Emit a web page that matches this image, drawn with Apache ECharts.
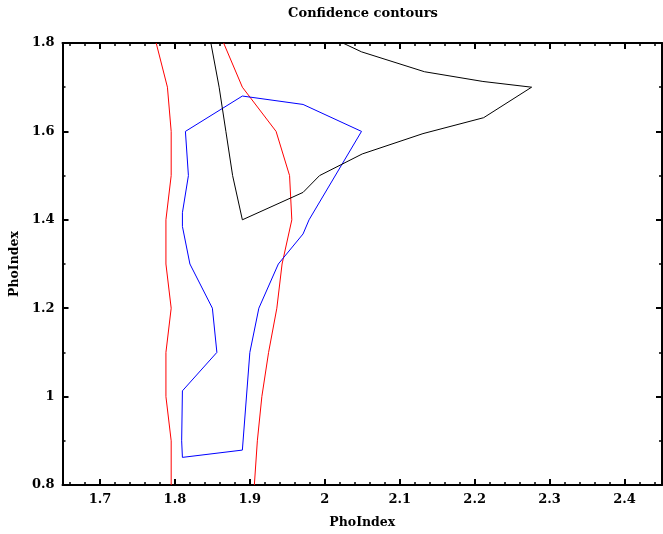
<!DOCTYPE html>
<html>
<head>
<meta charset="utf-8">
<title>Confidence contours</title>
<script src="https://cdn.jsdelivr.net/npm/echarts@6/dist/echarts.min.js"></script>
<style>
  html, body { margin: 0; padding: 0; background: #fff; }
  #contourChart { width: 663px; height: 534px; }
</style>
</head>
<body>
<div id="contourChart"></div>
<script>
// tick labels
const xTicks = [1.7, 1.8, 1.9, 2.0, 2.1, 2.2, 2.3, 2.4];
const yTicks = [0.8, 1.0, 1.2, 1.4, 1.6, 1.8];

// contour lines, [PhoIndex(x), PhoIndex(y)]
const redLeft = [
  [1.775, 1.8], [1.790, 1.7], [1.795, 1.6], [1.795, 1.5], [1.788, 1.4], [1.788, 1.3],
  [1.795, 1.2], [1.788, 1.1], [1.788, 1.0], [1.795, 0.9], [1.795, 0.8]
];
const redRight = [
  [1.865, 1.8], [1.890, 1.7], [1.935, 1.6], [1.953, 1.5], [1.956, 1.4], [1.943, 1.3],
  [1.936, 1.2], [1.925, 1.1], [1.916, 1.0], [1.910, 0.9], [1.906, 0.8]
];
const blueLoop = [
  [1.814, 1.6], [1.890, 1.68], [1.971, 1.661], [2.049, 1.6], [1.979, 1.4], [1.971, 1.368],
  [1.938, 1.3], [1.912, 1.2], [1.900, 1.1], [1.890, 0.879], [1.810, 0.8625], [1.809, 0.9],
  [1.810, 1.013], [1.856, 1.1], [1.850, 1.2], [1.820, 1.3], [1.810, 1.385], [1.810, 1.416],
  [1.818, 1.5], [1.814, 1.6]
];
const blackLine = [
  [1.848, 1.8], [1.859, 1.7], [1.868, 1.6], [1.877, 1.5], [1.890, 1.4], [1.971, 1.462],
  [1.993, 1.5], [2.050, 1.549], [2.131, 1.595], [2.212, 1.631], [2.276, 1.7], [2.211, 1.713],
  [2.133, 1.735], [2.049, 1.780], [2.024, 1.8]
];

// minor ticks
let xMinor = [];
for (let i = 166; i <= 244; i += 2) {
  if (i % 10 !== 0) xMinor.push(i / 100);
}
let yMinor = [];
for (let i = 9; i <= 17; i += 2) yMinor.push(i / 10);

let chart = echarts.init(document.getElementById("contourChart"));

const font = "DejaVu Serif";
const fmt = function (v) {
  return String(Number(v.toFixed(2)));
};

function makeAxis(pos, min, max, values, isMajor, withLabel, name) {
  let ax = {
    type: "value",
    position: pos,
    min: min,
    max: max,
    scale: true,
    axisLine: { show: isMajor, onZero: false, lineStyle: { color: "#000", width: 2 } },
    axisTick: {
      show: true,
      inside: true,
      length: isMajor ? 6 : 3,
      customValues: values,
      lineStyle: { color: "#000", width: isMajor ? 2 : 1.5 },
    },
    axisLabel: {
      show: withLabel,
      customValues: values,
      formatter: fmt,
      color: "#000",
      fontFamily: font,
      fontWeight: "bold",
      fontSize: 13,
      margin: 8,
    },
    splitLine: { show: false },
  };
  if (name) {
    ax.name = name;
    ax.nameLocation = "middle";
    ax.nameTextStyle = { color: "#000", fontFamily: font, fontWeight: "bold", fontSize: 12.5 };
  }
  return ax;
}

let xAxes = [
  makeAxis("bottom", 1.65, 2.45, xTicks, true, true, "PhoIndex"),
  makeAxis("bottom", 1.65, 2.45, xMinor, false, false),
  makeAxis("top", 1.65, 2.45, xTicks, true, false),
  makeAxis("top", 1.65, 2.45, xMinor, false, false),
];
xAxes[0].nameGap = 31;

let yAxes = [
  makeAxis("left", 0.8, 1.8, yTicks, true, true, "PhoIndex"),
  makeAxis("left", 0.8, 1.8, yMinor, false, false),
  makeAxis("right", 0.8, 1.8, yTicks, true, false),
  makeAxis("right", 0.8, 1.8, yMinor, false, false),
];
yAxes[0].nameGap = 41;

function contour(data, color) {
  return {
    type: "line",
    data: data,
    xAxisIndex: 0,
    yAxisIndex: 0,
    symbol: "none",
    silent: true,
    clip: true,
    lineStyle: { color: color, width: 1 },
  };
}

let option = {
  animation: false,
  backgroundColor: "#fff",
  grid: { left: 62, top: 43, width: 600, height: 443, containLabel: false },
  graphic: [
    {
      type: "text",
      x: 363,
      y: 14,
      style: {
        text: "Confidence contours",
        align: "center",
        verticalAlign: "middle",
        fill: "#000",
        font: "bold 13px 'DejaVu Serif'",
      },
    },
  ],
  xAxis: xAxes,
  yAxis: yAxes,
  series: [
    contour(redLeft, "#ff0000"),
    contour(redRight, "#ff0000"),
    contour(blueLoop, "#0000ff"),
    contour(blackLine, "#000000"),
  ],
};
chart.setOption(option);
</script>
</body>
</html>
